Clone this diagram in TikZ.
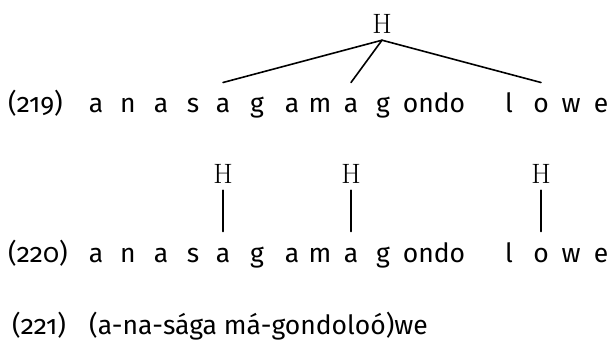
\documentclass[tikz,border=0pt]{standalone}
\usepackage{fontspec}
\newfontfamily\segfont[Numbers=OldStyle]{Fira Sans}
\begin{document}
\begin{tikzpicture}[x=1pt,y=-1pt,
  seg/.style={inner sep=0pt,anchor=base,font=\segfont\fontsize{26.5}{30}\selectfont},
  exnum/.style={inner sep=0pt,anchor=base west,font=\segfont\fontsize{26.5}{30}\selectfont},
  tone/.style={inner sep=0pt,anchor=base,font=\rmfamily\fontsize{28}{32}\selectfont},
  assoc/.style={line width=1.6pt,line cap=round}]
\useasboundingbox (0,0) rectangle (616,343);

% (219): one H linked to three tone-bearing units
\node[exnum] (n219) at (8,112) {(219)};
\foreach \ch/\xx [count=\i] in {a/96,n/128,a/161,s/193,a/223,g/257,a/292,m/320,a/351,g/383,ondo/434,l/509,o/541,w/571,e/601}
  \node[seg] (p\i) at (\xx,112) {\ch};
\node[tone] (hp) at (382,33) {H};
\draw[assoc] ([yshift=-7pt]hp.south) -- ([yshift=15pt]p5.north);
\draw[assoc] ([yshift=-7pt]hp.south) -- ([yshift=15pt]p9.north);
\draw[assoc] ([yshift=-7pt]hp.south) -- ([yshift=15pt]p13.north);

% (220): three separate H tones
\node[exnum] (n220) at (8,262) {(220)};
\foreach \ch/\xx [count=\i] in {a/96,n/128,a/161,s/193,a/223,g/257,a/292,m/320,a/351,g/383,ondo/434,l/509,o/541,w/571,e/601}
  \node[seg] (q\i) at (\xx,262) {\ch};
\node[tone] (ha) at (223,183) {H};
\node[tone] (hb) at (351,183) {H};
\node[tone] (hc) at (541,183) {H};
\draw[assoc] ([yshift=-7pt]ha.south) -- ([yshift=16pt]q5.north);
\draw[assoc] ([yshift=-7pt]hb.south) -- ([yshift=16pt]q9.north);
\draw[assoc] ([yshift=-7pt]hc.south) -- ([yshift=16pt]q13.north);

% (221): surface form
\node[exnum] (n221) at (12,334) {(221)};
\node[exnum] (form) at (89,334) {(a-na-sága má-gondoloó)we};
\end{tikzpicture}
\end{document}
